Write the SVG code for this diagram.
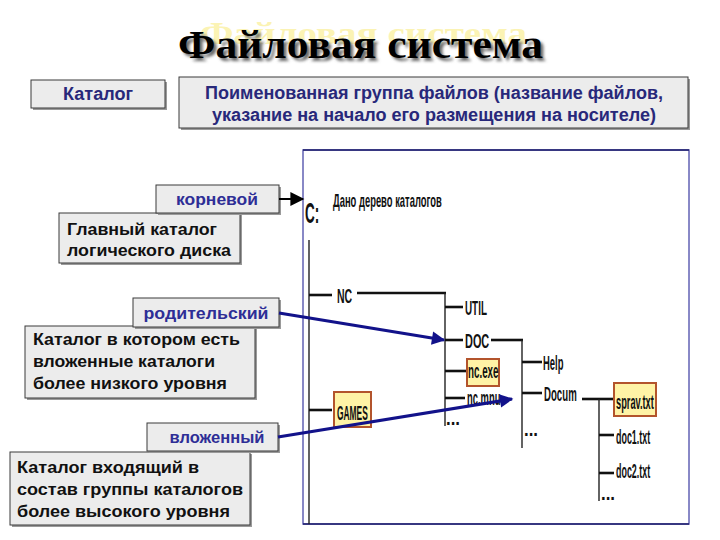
<svg xmlns="http://www.w3.org/2000/svg" width="720" height="540" viewBox="0 0 720 540">
<defs>
<style>
.title{font-family:"Liberation Serif","Times New Roman",serif;font-weight:bold}
.box{fill:#ececec;stroke:#3a3a3a;stroke-width:1}
.shd{fill:#9a9a9a}
.lbl{font-family:"Liberation Sans",Arial,sans-serif;font-weight:bold;font-size:17px;fill:#2e2e96;text-anchor:middle}
.def{font-family:"Liberation Sans Narrow","Liberation Sans",Arial,sans-serif;font-weight:bold;font-size:18px;fill:#28287a;text-anchor:middle}
.txt{font-family:"Liberation Sans",Arial,sans-serif;font-weight:bold;font-size:17px;fill:#111}
.tr{font-family:"Liberation Sans",Arial,sans-serif;font-weight:bold;font-size:21px;fill:#111}
.th{stroke:#111;stroke-width:2.6;fill:none}
.tn{stroke:#222;stroke-width:1.4;fill:none}
.yb{fill:#fff3a6;stroke:#b3542c;stroke-width:2}
.blue{stroke:#12128a;stroke-width:3.2;fill:none}
</style>
<filter id="blur" x="-5%" y="-20%" width="110%" height="140%"><feGaussianBlur stdDeviation="1.6"/></filter>
<marker id="bh" viewBox="0 0 10 10" refX="9" refY="5" markerWidth="6" markerHeight="4.2" orient="auto" markerUnits="strokeWidth"><path d="M0,0 L10,5 L0,10 z" fill="#12128a"/></marker>
<marker id="kh" viewBox="0 0 10 10" refX="9" refY="5" markerWidth="9" markerHeight="7" orient="auto" markerUnits="strokeWidth"><path d="M0,0 L10,5 L0,10 z" fill="#000"/></marker>
</defs>
<rect width="720" height="540" fill="#ffffff"/>

<g id="title">
<text class="title" x="200" y="44" style="font-size:32px" textLength="327" lengthAdjust="spacingAndGlyphs" fill="#fbf3b4">Файловая система</text>
<text class="title" x="181" y="61" style="font-size:40px" textLength="365" lengthAdjust="spacingAndGlyphs" fill="#6a6a6a" filter="url(#blur)">Файловая система</text>
<text class="title" x="178" y="58" style="font-size:40px" textLength="365" lengthAdjust="spacingAndGlyphs" fill="#000">Файловая система</text>
</g>

<g id="katalog">
<rect class="shd" x="33" y="82" width="134" height="28"/>
<rect class="box" x="31" y="80" width="134" height="28"/>
<text class="def" x="98" y="100" textLength="70" lengthAdjust="spacingAndGlyphs">Каталог</text>
</g>

<g id="definition">
<rect class="shd" x="181" y="79" width="509" height="51"/>
<rect class="box" x="179" y="77" width="509" height="51"/>
<text class="def" x="434" y="99" textLength="458" lengthAdjust="spacingAndGlyphs">Поименованная группа файлов (название файлов,</text>
<text class="def" x="434" y="121" textLength="444" lengthAdjust="spacingAndGlyphs">указание на начало его размещения на носителе)</text>
</g>

<g id="root-desc">
<rect class="shd" x="61" y="215" width="181" height="50"/>
<rect class="box" x="59" y="213" width="181" height="50"/>
<text class="txt" x="67" y="235" textLength="150" lengthAdjust="spacingAndGlyphs">Главный каталог</text>
<text class="txt" x="67" y="256" textLength="164" lengthAdjust="spacingAndGlyphs">логического диска</text>
</g>
<g id="root">
<rect class="shd" x="158" y="187" width="123" height="28"/>
<rect class="box" x="156" y="185" width="123" height="28"/>
<text class="lbl" x="217" y="205" textLength="82" lengthAdjust="spacingAndGlyphs">корневой</text>
</g>

<g id="parent-desc">
<rect class="shd" x="27" y="328" width="230" height="72"/>
<rect class="box" x="25" y="326" width="230" height="72"/>
<text class="txt" x="33" y="345" textLength="207" lengthAdjust="spacingAndGlyphs">Каталог в котором есть</text>
<text class="txt" x="33" y="367" textLength="182" lengthAdjust="spacingAndGlyphs">вложенные каталоги</text>
<text class="txt" x="33" y="389" textLength="194" lengthAdjust="spacingAndGlyphs">более низкого уровня</text>
</g>
<g id="parent">
<rect class="shd" x="135" y="300" width="146" height="29"/>
<rect class="box" x="133" y="298" width="146" height="29"/>
<text class="lbl" x="206" y="319" textLength="125" lengthAdjust="spacingAndGlyphs">родительский</text>
</g>

<g id="nested-desc">
<rect class="shd" x="12" y="454" width="240" height="73"/>
<rect class="box" x="10" y="452" width="240" height="73"/>
<text class="txt" x="17" y="473" textLength="182" lengthAdjust="spacingAndGlyphs">Каталог входящий в</text>
<text class="txt" x="17" y="495" textLength="226" lengthAdjust="spacingAndGlyphs">состав группы каталогов</text>
<text class="txt" x="17" y="517" textLength="213" lengthAdjust="spacingAndGlyphs">более высокого уровня</text>
</g>
<g id="nested">
<rect class="shd" x="149" y="425" width="131" height="28"/>
<rect class="box" x="147" y="423" width="131" height="28"/>
<text class="lbl" x="217" y="443" textLength="95" lengthAdjust="spacingAndGlyphs">вложенный</text>
</g>

<g id="tree">
<rect x="303" y="150" width="386" height="374" fill="#ffffff" stroke="#6262b4" stroke-width="1.5"/>
<line x1="303" y1="150" x2="689" y2="150" stroke="#1c1c6a" stroke-width="1.5"/>
<line x1="303" y1="524" x2="689" y2="524" stroke="#1c1c6a" stroke-width="1.5"/>
<text class="tr" transform="translate(305,223) scale(0.45,1)" style="font-size:30px">C:</text>
<text class="tr" transform="translate(333,207) scale(0.495,1)" style="font-size:19px">Дано дерево каталогов</text>
<line class="tn" x1="309" y1="240" x2="309" y2="524"/>
<line class="th" x1="309" y1="295" x2="332" y2="295"/>
<text class="tr" transform="translate(337,303) scale(0.5,1)">NC</text>
<line class="th" x1="357" y1="293" x2="446" y2="293"/>
<line class="tn" x1="445" y1="293" x2="445" y2="426"/>
<line class="th" x1="445" y1="307" x2="463" y2="307"/>
<text class="tr" transform="translate(465,315) scale(0.47,1)">UTIL</text>
<line class="th" x1="445" y1="340" x2="463" y2="340"/>
<text class="tr" transform="translate(465,348) scale(0.52,1)">DOC</text>
<line class="th" x1="445" y1="371" x2="466" y2="371"/>
<rect class="yb" x="467" y="359" width="32" height="27"/>
<text class="tr" transform="translate(468,378) scale(0.49,1)" style="font-size:20px">nc.exe</text>
<line class="th" x1="445" y1="398" x2="465" y2="398"/>
<text class="tr" transform="translate(467,405) scale(0.47,1)" style="font-size:20px">nc.mnu</text>
<text class="tr" transform="translate(446,425) scale(0.8,1)">...</text>
<line class="th" x1="491" y1="340" x2="523" y2="340"/>
<line class="tn" x1="522" y1="340" x2="522" y2="448"/>
<line class="th" x1="522" y1="362" x2="542" y2="362"/>
<text class="tr" transform="translate(543,370) scale(0.45,1)">Help</text>
<line class="th" x1="522" y1="393" x2="542" y2="393"/>
<text class="tr" transform="translate(544,401) scale(0.46,1)">Docum</text>
<text class="tr" transform="translate(524,436) scale(0.8,1)">...</text>
<line class="th" x1="582" y1="399" x2="613" y2="399"/>
<line class="tn" x1="599" y1="399" x2="599" y2="501"/>
<rect class="yb" x="614" y="383" width="42" height="33"/>
<text class="tr" transform="translate(616,409) scale(0.44,1)">sprav.txt</text>
<line class="th" x1="599" y1="435" x2="614" y2="435"/>
<text class="tr" transform="translate(616,444) scale(0.425,1)">doc1.txt</text>
<line class="th" x1="599" y1="473" x2="614" y2="473"/>
<text class="tr" transform="translate(616,478) scale(0.425,1)">doc2.txt</text>
<text class="tr" transform="translate(601,500) scale(0.8,1)">...</text>
<line class="th" x1="309" y1="410" x2="332" y2="410"/>
<rect class="yb" x="334" y="392" width="37" height="35"/>
<text class="tr" transform="translate(337,420) scale(0.4,1)">GAMES</text>
</g>

<g id="connectors">
<line x1="279" y1="199" x2="303" y2="199" stroke="#000" stroke-width="2" marker-end="url(#kh)"/>
<line class="blue" x1="279" y1="313" x2="444" y2="340" marker-end="url(#bh)"/>
<line class="blue" x1="278" y1="437" x2="512" y2="399" marker-end="url(#bh)"/>
</g>
</svg>
